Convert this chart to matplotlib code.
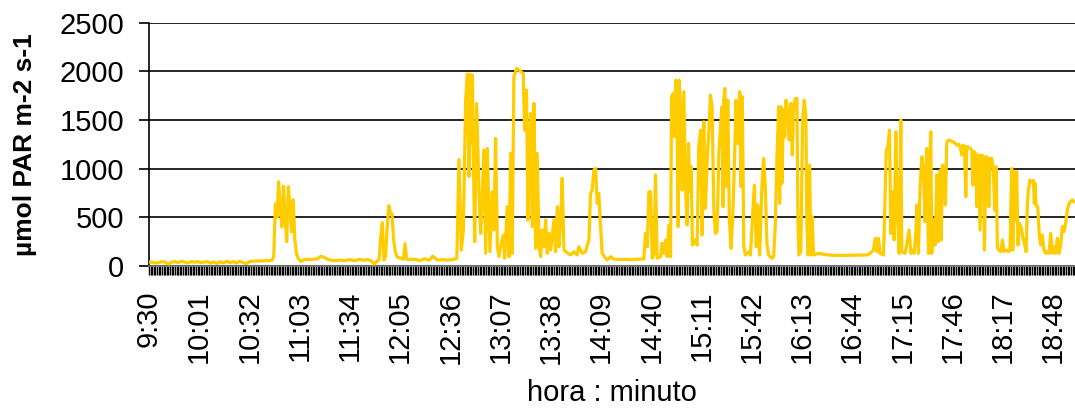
import matplotlib
matplotlib.use("Agg")
import matplotlib.pyplot as plt
from matplotlib.ticker import MultipleLocator

# minutos desde as 9:30 e PAR (umol m-2 s-1)
minutos = [
    0, 2, 4, 6, 8, 10, 12, 14, 16, 18, 20, 22, 24, 26, 28, 30, 32, 34, 36, 38,
    40, 42, 44, 46, 48, 50, 52, 54, 56, 58, 60, 62, 64, 66, 68, 70, 72, 74, 76, 77,
    78, 79, 80, 81, 82, 83, 84, 85, 86, 87, 88, 89, 90, 91, 92, 93, 94,
    95, 97, 100, 102, 104, 106, 108, 110, 112, 115, 118, 121, 124, 127, 130, 132, 135, 137, 139, 141,
    142, 143, 144, 145, 146, 147, 148, 149, 150, 151, 152, 153, 155, 157, 158, 159, 161, 164, 167,
    170, 173, 175, 176, 178, 181, 184, 187, 189, 190,
    191.3, 192.8, 194.0, 195.4, 196.5, 197.5, 198.1, 198.9, 199.6, 200.2, 201.0, 202.2, 203.7,
    204.7, 205.7, 206.7, 207.8, 208.8, 210.4, 211.9, 212.9, 213.9, 215.0, 216.0, 217.0, 218.7,
    219.5, 221.1, 222.2, 223.2, 224.2, 225.2, 226.9, 228.3, 229.8, 231.0, 231.8, 233.0, 233.9,
    234.7, 235.5, 236.5, 237.6, 238.6, 239.6, 240.7, 241.7, 242.7, 243.7, 244.8, 245.8, 246.8,
    247.9, 249.9, 250.9, 252.0, 253.0, 254.0, 255.0, 256.1, 258.1, 260.2, 262.2, 264.3, 265.3,
    267.4, 269.4, 271.5, 272.5, 273.5, 274.6, 275.6, 276.6, 277.6, 278.7, 279.7, 281.8, 282.8, 284.8,
    286.9, 291, 295.1, 298, 301.3, 305.4, 306.4, 307.5, 308.5, 309.5, 310.6, 311.6, 312.6, 313.6,
    315.7, 316.7, 317.7, 318.8, 319.8, 320.8, 321.9, 322.5, 323.5, 324.3, 325.1, 326.0, 326.6,
    327.2, 328.0, 329.0, 330.1, 331.1, 332.1, 333.0, 333.8, 334.6, 335.4, 337.3, 338.3, 339.3,
    340.4, 341.4, 342.4, 343.4, 344.5, 345.5, 346.5, 347.5, 348.6, 349.6, 350.6, 351.7, 352.7,
    353.7, 354.3, 354.7, 355.4, 356.4, 357.2, 358.2, 359.3, 360.5, 361.3, 362.3, 363.4, 364.6,
    365.4, 366.2, 367.1, 368.1, 370.2, 371.2, 372.2,
    373.6, 374.8, 375.6, 376.9, 378.3, 379.3, 380.3, 381.4, 382.4, 384.5, 385.5, 386.5, 387.5,
    388.6, 389.2, 390.0, 390.6, 391.7, 392.3, 393.1, 394.1, 395.1, 396.2, 397.0, 397.8, 398.8,
    399.9, 400.5, 401.1, 402.3, 403.4, 404.4, 405.4, 406.0, 406.7, 407.7, 408.5, 409.3, 410.1,
    413.2, 418, 422.5, 428, 432.8, 438, 443.0, 445.1, 447.1, 448.2, 449.2, 450.2, 451.2, 453.3,
    453.9, 455.0, 456.0, 457.0, 457.8, 458.8, 459.9, 460.9, 461.9, 463.0, 464.0,
    464.6, 466.7, 468.1, 469.1, 470.2, 471.4, 472.2, 473.3, 473.9, 474.9, 475.9, 477.0, 478.0,
    479.0, 480.0, 481.1, 481.7, 482.5, 483.1, 484.2, 485.2, 486.2, 487.2, 488.3, 488.9, 489.7,
    490.7, 491.5, 492.4, 493.4, 494.4, 495.5, 496.5, 497.5, 498.5, 499.6, 500.6, 501.6, 502.2,
    503.3, 504.1, 504.7, 505.7, 506.8, 507.8, 508.4, 509.2, 510.2, 510.9, 511.9, 512.9, 513.9,
    515.0, 515.6, 516.6, 517.6, 518.3, 519.1, 520.1, 521.1, 522.0, 522.8, 523.6, 524.6, 525.7,
    526.7, 527.7, 529.0, 530.4, 531.4, 532.4, 533.1, 534.1, 534.9, 535.5, 536.3, 537.2, 538.2,
    539.2, 540.3, 541.3, 542.1, 542.7, 543.7, 544.8, 545.8, 546.4, 546.8, 547.4, 548.5, 549.5,
    550.3, 551.3, 552.4, 553.4, 554.4, 555.5, 556.5, 557.5, 558.5, 559.6, 560.6, 561.6, 562.7,
    563.7, 564.7, 565.7, 566.8, 567.8, 568.8, 569.8, 570.9,
]
par = [
    40, 38, 30, 35, 45, 40, 20, 40, 45, 35, 50, 40, 30, 45, 40, 45, 35, 40, 45, 30,
    40, 25, 45, 30, 50, 35, 45, 30, 50, 35, 25, 45, 50, 50, 52, 52, 55, 55, 60, 100,
    640, 500, 865, 600, 400, 820, 500, 250, 815, 600, 350, 680, 270, 130, 80, 60, 45,
    60, 70, 65, 70, 75, 100, 90, 70, 60, 55, 60, 55, 65, 55, 70, 60, 65, 55, 20, 55,
    60, 300, 445, 60, 100, 400, 620, 540, 535, 265, 150, 95, 80, 70, 230, 70, 65, 70, 55,
    75, 60, 100, 90, 60, 65, 60, 65, 72, 79,
    1094, 164, 370, 1703, 1970, 917, 1970, 1258, 1960, 1088, 250, 1669, 745,
    335, 730, 1190, 130, 1207, 147, 763, 370, 1310, 198, 96, 198, 318,
    79, 609, 96, 1156, 130, 1943, 2028, 2011, 1994, 1977, 1395, 1806, 472,
    1088, 1566, 404, 1669, 181, 1156, 215, 96, 370, 198, 472, 130, 335,
    164, 472, 147, 609, 198, 455, 900, 164, 137, 113, 147, 113, 198,
    130, 147, 267, 745, 780, 985, 1002, 643, 745, 404, 130, 79, 62, 96,
    70, 66, 68, 65, 70, 72, 335, 198, 763, 763, 79, 130, 934, 79,
    96, 233, 130, 267, 96, 421, 96, 1737, 1772, 1327, 1908, 1361, 404,
    1908, 1635, 780, 1789, 814, 421, 1258, 763, 1019, 215, 267, 215, 1224,
    1395, 318, 1481, 592, 1088, 1378, 1754, 1635, 575, 335, 352, 1156, 1430,
    1635, 609, 1703, 1823, 814, 1703, 472, 181, 609, 1053, 1703, 1258, 1789,
    814, 1737, 198, 113, 147, 113, 421,
    831, 198, 626, 113, 831, 1105, 848, 215, 113, 79, 96, 404, 1088,
    1635, 643, 1635, 848, 1601, 1327, 1703, 1601, 1293, 1669, 1139, 1601, 1720,
    1720, 472, 113, 147, 1498, 1703, 1532, 472, 113, 1036, 113, 506, 113,
    130, 115, 110, 108, 110, 112, 113, 130, 164, 284, 147, 284, 130, 113,
    455, 1190, 1224, 1395, 335, 763, 267, 1378, 540, 130, 1498,
    147, 130, 267, 370, 130, 164, 130, 352, 626, 130, 814, 1122, 985,
    455, 1207, 130, 951, 1378, 130, 472, 215, 934, 250, 985, 267, 1036,
    1019, 626, 1276, 1293, 1290, 1276, 1275, 1258, 1241, 1250, 1224, 1139, 1241,
    1230, 711, 1224, 1220, 1207, 1190, 831, 1173, 1156, 609, 1139, 370, 1139,
    1122, 164, 1122, 1105, 609, 1105, 1105, 985, 575, 1019, 181, 164, 147,
    267, 147, 164, 147, 164, 1002, 164, 968, 472, 968, 215, 438, 404,
    301, 233, 147, 626, 780, 882, 865, 880, 643, 848, 626, 609, 318,
    215, 318, 164, 130, 147, 130, 335, 130, 198, 130, 284, 130, 215,
    404, 352, 438, 575, 643, 660, 677, 660,
]

rotulos = ['9:30', '10:01', '10:32', '11:03', '11:34', '12:05', '12:36', '13:07', '13:38',
           '14:09', '14:40', '15:11', '15:42', '16:13', '16:44', '17:15', '17:46', '18:17', '18:48']
pos_rotulos = [31 * i for i in range(len(rotulos))]
y_ticks = [0, 500, 1000, 1500, 2000, 2500]

plt.rcParams['font.family'] = ['Liberation Sans', 'DejaVu Sans']

fig = plt.figure(figsize=(10.75, 4.09), dpi=100)
ax = fig.add_axes([149 / 1075, 1 - 266 / 409, 926 / 1075, 243.5 / 409])

ax.plot(minutos, par, color='#FFCC00', lw=2.3, zorder=3)

ax.set_xlim(0, 571.5)
ax.set_ylim(0, 2500)
ax.set_yticks(y_ticks)
ax.yaxis.grid(True, color='black', lw=1.2)
ax.set_axisbelow(True)

for s in ['top', 'right']:
    ax.spines[s].set_visible(False)
ax.spines['left'].set_linewidth(1.2)
ax.spines['bottom'].set_color('#777777')
ax.spines['bottom'].set_linewidth(1.2)

ax.set_xticks(pos_rotulos)
ax.set_xticklabels(rotulos, rotation=90)
ax.xaxis.set_minor_locator(MultipleLocator(1))
ax.tick_params(axis='x', which='both', length=6.8, width=1.0, color='black', pad=11, labelsize=21)
ax.tick_params(axis='y', length=7, width=1.2, pad=11, labelsize=21)

ax.set_ylabel('µmol PAR m-2 s-1', fontsize=19, fontweight='bold')
ax.yaxis.set_label_coords(-0.121, 0.5)
fig.text(ax.get_position().x0 + ax.get_position().width / 2, (409 - 393) / 409,
         'hora : minuto', fontsize=21, ha='center', va='center')

fig.savefig('out.png', dpi=100)
